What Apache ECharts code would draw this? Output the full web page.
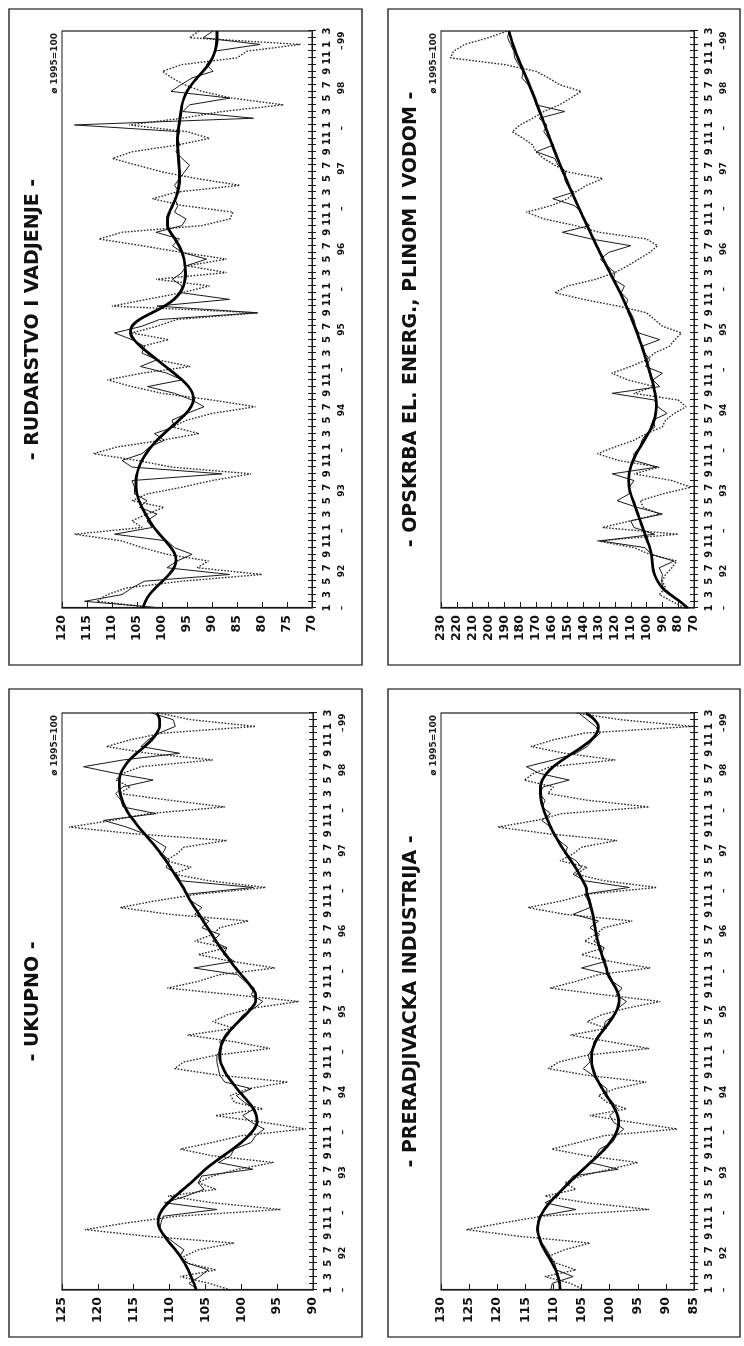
<!DOCTYPE html>
<html>
<head>
<meta charset="utf-8">
<script src="https://cdn.jsdelivr.net/npm/echarts@6.0.0/dist/echarts.min.js"></script>
<style>
html,body{margin:0;padding:0;background:#fff;overflow:hidden;width:744px;height:1346px;}
#page{position:absolute;left:0;top:0;width:1346px;height:744px;transform-origin:0 0;transform:translateY(1346px) rotate(-90deg);background:#fff;}
</style>
</head>
<body>
<div id="page"></div>
<script>
// ---- tick labels ----
const monthTickLabels = ['1','','3','','5','','7','','9','','11',''];
const yearLabels = ['92','93','94','95','96','97','98','99'];
const baseLabel = 'ø 1995=100';
const titles = ['- UKUPNO -','- PRERADJIVACKA INDUSTRIJA -','- RUDARSTVO I VADJENJE -','- OPSKRBA EL. ENERG., PLINOM I VODOM -'];

// ---- series values, monthly Jan 1992 .. Mar 1999 ----
const ukupnoRaw = [101.5,104.5,108.5,103.5,107.5,108.0,106.0,101.0,113.0,121.8,116.0,109.0,
 94.5,104.0,110.2,103.5,106.0,104.0,100.5,95.5,104.0,108.5,104.0,100.0,
 91.0,97.0,103.6,97.0,101.0,101.5,99.0,93.5,103.0,109.3,108.0,103.5,
 96.0,101.0,107.5,101.0,104.0,102.0,98.5,92.0,101.0,110.3,106.0,103.0,
 95.3,101.5,106.0,102.0,106.5,104.0,103.0,99.0,110.0,116.9,112.0,106.0,
 96.6,104.5,109.5,107.0,110.5,109.0,108.0,102.0,115.0,124.0,118.0,113.0,
 102.3,110.0,117.0,115.5,117.5,116.5,114.0,104.0,113.0,118.8,115.5,111.0,
 98.0,107.0,111.5];
const ukupnoSA = [106.0,107.3,105.8,104.6,107.5,108.6,108.0,109.3,110.5,111.4,111.2,110.9,
 103.4,110.7,107.7,105.2,106.0,105.5,98.4,103.2,101.5,101.0,98.6,98.0,
 96.8,98.6,99.8,98.2,99.6,100.7,98.6,102.3,103.0,103.2,103.4,103.4,
 102.7,103.0,101.8,101.4,100.5,99.8,98.2,97.0,98.6,98.2,99.5,100.5,
 106.6,101.0,102.5,102.0,104.0,103.0,105.5,104.5,106.5,105.5,107.0,107.5,
 98.3,108.5,109.0,110.5,110.0,111.0,110.5,112.0,113.5,116.0,119.2,111.9,
 116.5,116.8,117.5,116.5,112.3,117.5,122.0,116.5,108.6,114.0,113.0,111.5,
 109.2,109.5,112.5];
const ukupnoTrend = [106.3,106.6,107.0,107.4,107.9,108.5,109.2,110.0,110.7,111.3,111.6,111.5,
 111.0,110.2,109.2,108.1,107.0,106.0,105.0,103.8,102.5,101.2,100.0,99.0,
 98.2,97.8,97.9,98.3,99.0,99.8,100.6,101.3,102.0,102.5,102.9,103.0,
 102.9,102.6,102.1,101.3,100.4,99.4,98.6,98.0,98.0,98.5,99.2,100.0,
 100.8,101.5,102.2,102.9,103.5,104.1,104.7,105.3,105.9,106.5,107.1,107.6,
 108.1,108.7,109.3,109.9,110.5,111.2,111.9,112.7,113.5,114.3,115.0,115.7,
 116.2,116.6,116.9,117.0,117.0,116.8,116.3,115.6,114.6,113.5,112.5,111.8,
 111.4,111.4,111.8];

const preradRaw = [104.5,107,111.5,106,109.5,111,108,103.5,116,125.5,119,112,
 93,104,111.5,106,108,105,100,95,104,110.3,105.5,101,
 88,96,103.5,97,100.5,102,99,93.5,104,110.9,109,104,
 93,100,107,100.5,104,101.5,97,91,101,110.6,106,102,
 92.8,100,105,101,104.5,102.5,101,96,108,114.5,108.5,104,
 91.6,101,106,104,108.8,106.5,105,98.7,111,119.9,113,108.5,
 93,104,111,110,115.2,113.5,110.5,99,108,114,110,104.5,
 85.3,98,106];
const preradSA = [110.5,110.2,106.5,109.5,109.8,110.5,111.2,112.0,112.5,113.0,112.8,112.6,
 106.0,111.5,109.2,108.5,107.5,106.5,98.5,103.5,102.5,101.8,99.5,98.8,
 97.5,99.3,100.0,98.6,99.5,100.5,100.5,102.0,103.0,104.7,103.5,103.8,
 103.0,102.8,102.0,101.0,100.8,99.0,98.5,97.0,98.8,97.8,99.5,100.0,
 105.0,100.6,101.5,101.0,102.8,101.8,103.5,102.0,106.5,103.5,103.8,104.5,
 96.5,104.5,106.5,105.0,106.0,108.0,107.5,109.0,110.0,110.5,112.1,110.5,
 112.0,111.5,112.5,111.8,107.2,112.5,114.8,110.0,106.0,104.0,103.0,101.7,
 102.5,104.0,105.5];
const preradTrend = [108.8,108.9,109.2,109.6,110.2,110.9,111.6,112.2,112.6,112.8,112.7,112.3,
 111.6,110.7,109.6,108.4,107.2,106.0,104.7,103.4,102.1,100.9,99.9,99.1,
 98.6,98.4,98.6,99.1,99.8,100.6,101.3,102.0,102.6,103.0,103.2,103.2,
 103.0,102.5,101.8,100.9,100.0,99.2,98.6,98.3,98.4,98.9,99.6,100.3,
 100.6,101.0,101.4,101.8,102.1,102.4,102.6,102.8,103.0,103.3,103.6,104.0,
 104.2,104.8,105.4,106.1,106.9,107.7,108.5,109.2,109.9,110.5,111.0,111.5,
 111.9,112.2,112.3,112.3,112.0,111.2,110.0,108.4,106.6,104.8,103.3,102.3,
 102.0,102.7,104.2];

const rudRaw = [101,113,111,107,96,80,93,90.7,99,104,108,117.5,
 104,106,103,99.6,106,103,96,90,82.2,98,105,113.7,
 109,100,92.6,98,95,90,81.3,90,100,106,110.9,104,
 94.4,101,103,104,98.7,106,101,97,80.8,110,103,96,
 90.5,101.2,87.1,95,87.1,96,104,112.6,108,92,86.4,85.8,
 96,101.9,97,84.4,93,100,105,109.9,106,97,90.5,95,
 106.6,96,88,75.7,86,92,95.5,98,99.9,96,85,83,
 72.3,94.5,92.6];
const rudSA = [100,115.5,108,106,103.5,86.5,99,97,94,97.5,99,109.5,
 102,103,101,104.5,103,105.5,105.5,106,88,106,108,104,
 102.5,99.5,101.5,97.5,98,95,91.6,94,97.5,102.9,96,99,
 104.3,101,104,103.5,106,109.5,104,100.5,81,101,86.5,96.2,
 96,97.9,96,95.2,91.1,96,97.9,96.5,101.2,96,95.2,97.5,
 96.8,97.5,96.5,97.5,96.5,95.5,94.5,96,97.2,96.5,96.8,96.5,
 117.5,81.7,95.8,94.5,86.4,98.2,96.2,94,89.8,91.1,90,89.5,
 80.4,91.8,89.8];
const rudTrend = [103.8,103.3,102.5,101.3,99.9,98.6,97.6,97.2,97.4,98.2,99.3,100.5,
 101.6,102.5,103.3,104.0,104.6,105.0,105.2,105.2,105.0,104.6,104.0,103.2,
 102.2,101.0,99.6,98.1,96.6,95.2,94.2,93.7,93.9,94.7,96.0,97.6,
 99.3,101.0,102.7,104.3,105.6,106.3,106.0,104.5,102.0,99.5,97.6,96.4,
 95.7,95.4,95.3,95.4,95.6,96.0,96.6,97.4,98.3,98.9,98.9,98.5,
 97.9,97.3,96.9,96.6,96.5,96.5,96.6,96.7,96.8,96.9,96.9,96.8,
 96.6,96.4,96.2,96.0,95.6,95.0,94.1,93.0,91.8,90.7,89.9,89.4,
 89.1,89.0,89.0];

const opsRaw = [76,84,92,88,90,88,84,81,98,108,131,80,
 128,110,92,102,104,90,72,84,108,92,118,131,
 120,108,100,90,88,82.6,75,80,108,95,112,122,
 110,100,95,85.6,82,78,90,95,100,118,140,158,
 150,132,120,112,105,98,93,100,130,145,165,176,
 160,150,145,138,127.7,150,158,165,170,172,178,185,
 180,172,165,155,148,141.3,155,162,170,190,224,222,
 215,200,188];
const opsSA = [73.6,79,85,89.5,90.5,90,92,82.6,97,101,129.2,95,
 108,110,90,106,118.7,111,111,108,121.7,93.2,108,108,
 104,103,100,94.7,96,87,93,95,121.7,91.7,96,90,
 100.7,98,101,103,91.7,105,107,108,110,113,112,116,
 114,121,120,125,129.2,124,110,135,153.3,136,140,141,
 145.8,159.3,146,150,152,151,156,158,169.8,159,162,165,
 163,168,151.8,170,171,173,175,178.9,178,181,183.4,184,
 186,187.9,187];
const opsTrend = [74,79,85,90,93,95,96,96.5,97,98,99.5,101,
 102.5,104,105.5,107,108.5,110,111,111.3,111,110,108.5,106.5,
 104,101.5,99,96.8,95.2,94.2,93.8,94,94.6,95.5,96.6,97.8,
 99,100.3,101.6,103,104.5,106,107.6,109.3,111,112.8,114.7,116.7,
 118.8,121,123.2,125.4,127.5,129.6,131.6,133.6,135.6,137.6,139.6,141.6,
 143.5,145.4,147.3,149.2,151,152.8,154.6,156.3,158,159.6,161.2,162.8,
 164.4,166,167.6,169.2,170.8,172.5,174.2,176,177.8,179.6,181.4,183,
 184.5,185.8,187];

// ---- layout (unrotated page 1346 x 744, then turned 90deg counter-clockwise) ----
const FONT = '"DejaVu Sans", Verdana, sans-serif';
const panels = [
  {title: titles[0], raw: ukupnoRaw, sa: ukupnoSA, trend: ukupnoTrend, min: 90, max: 125, step: 5,
   grid: {left: 56, top: 62, width: 577, height: 251}, box: [9, 9, 648, 353], tV: 33},
  {title: titles[1], raw: preradRaw, sa: preradSA, trend: preradTrend, min: 85, max: 130, step: 5,
   grid: {left: 56, top: 441, width: 577, height: 253}, box: [9, 388, 648, 352], tV: 411},
  {title: titles[2], raw: rudRaw, sa: rudSA, trend: rudTrend, min: 70, max: 120, step: 5,
   grid: {left: 738, top: 62, width: 577, height: 250}, box: [681, 9, 656, 353], tV: 33},
  {title: titles[3], raw: opsRaw, sa: opsSA, trend: opsTrend, min: 70, max: 230, step: 10,
   grid: {left: 738, top: 441, width: 577, height: 253}, box: [681, 388, 656, 352], tV: 411}
];

const lastIdx = ukupnoRaw.length - 1;

function yearFmt(v) {
  const k = Math.round(v * 2) / 2;
  if (k === 85) return yearLabels[7];
  if (k <= 77.5 && (k - 5.5) % 12 === 0 && k >= 5.5) return yearLabels[(k - 5.5) / 12];
  if (k === 0 || (k - 11.5) % 12 === 0) return '–';
  return '';
}

const grids = [], xAxes = [], yAxes = [], series = [], graphics = [];
panels.forEach((p, g) => {
  grids.push(Object.assign({show: true, borderColor: '#1a1a1a', borderWidth: 1.2, backgroundColor: 'transparent', containLabel: false, outerBoundsMode: 'none'}, p.grid));
  // month axis (ticks outside)
  xAxes.push({gridIndex: g, type: 'value', position: 'bottom', min: 0, max: lastIdx, interval: 1,
    axisLine: {show: true, lineStyle: {color: '#1a1a1a', width: 1.2}},
    axisTick: {show: true, inside: false, length: 4, lineStyle: {color: '#1a1a1a', width: 1}},
    axisLabel: {show: true, margin: 10, fontFamily: FONT, fontWeight: 'bold', fontSize: 10, color: '#111',
      formatter: v => monthTickLabels[Math.round(v) % 12]},
    splitLine: {show: false}});
  // inner half of the crossing ticks
  xAxes.push({gridIndex: g, type: 'value', position: 'bottom', min: 0, max: lastIdx, interval: 1,
    axisLine: {show: false}, axisTick: {show: true, inside: true, length: 4, lineStyle: {color: '#1a1a1a', width: 1}},
    axisLabel: {show: false}, splitLine: {show: false}});
  // year row
  xAxes.push({gridIndex: g, type: 'value', position: 'bottom', min: 0, max: lastIdx, interval: 0.5,
    axisLine: {show: false}, axisTick: {show: false},
    axisLabel: {show: true, margin: 25, fontFamily: FONT, fontWeight: 'bold', fontSize: 9, color: '#111', formatter: yearFmt},
    splitLine: {show: false}});
  yAxes.push({gridIndex: g, type: 'value', position: 'left', min: p.min, max: p.max, interval: p.step,
    axisLine: {show: true, lineStyle: {color: '#1a1a1a', width: 1.2}},
    axisTick: {show: true, inside: true, length: 6, lineStyle: {color: '#1a1a1a', width: 1}},
    axisLabel: {margin: 7, fontFamily: FONT, fontWeight: 'bold', fontSize: 12.5, color: '#111'},
    splitLine: {show: false}});
  const xi = g * 3;
  series.push({type: 'line', xAxisIndex: xi, yAxisIndex: g, symbol: 'none', silent: true, z: 2,
    data: p.raw.map((v, i) => [i, v]), lineStyle: {color: '#2a2a2a', width: 1.4, type: [1.6, 1.6]}});
  series.push({type: 'line', xAxisIndex: xi, yAxisIndex: g, symbol: 'none', silent: true, z: 3,
    data: p.sa.map((v, i) => [i, v]), lineStyle: {color: '#1a1a1a', width: 1}});
  series.push({type: 'line', xAxisIndex: xi, yAxisIndex: g, symbol: 'none', silent: true, z: 4, smooth: 0.35,
    data: p.trend.map((v, i) => [i, v]), lineStyle: {color: '#000', width: 2.8}});
  graphics.push({type: 'rect', silent: true, shape: {x: p.box[0], y: p.box[1], width: p.box[2], height: p.box[3]},
    style: {fill: 'none', stroke: '#333', lineWidth: 1.3}});
  graphics.push({type: 'text', silent: true, x: p.grid.left + p.grid.width / 2, y: p.tV,
    style: {text: p.title, font: 'bold 19px ' + FONT, fill: '#111', align: 'center', verticalAlign: 'middle'}});
  graphics.push({type: 'text', silent: true, x: p.grid.left + p.grid.width - 2, y: p.grid.top - 7,
    style: {text: baseLabel, font: 'bold 9px ' + FONT, fill: '#222', align: 'right', verticalAlign: 'middle'}});
});

const chart = echarts.init(document.getElementById('page'), null, {renderer: 'canvas', width: 1346, height: 744});
chart.setOption({
  animation: false,
  backgroundColor: '#fff',
  textStyle: {fontFamily: FONT},
  grid: grids,
  xAxis: xAxes,
  yAxis: yAxes,
  series: series,
  graphic: graphics
});
</script>
</body>
</html>
